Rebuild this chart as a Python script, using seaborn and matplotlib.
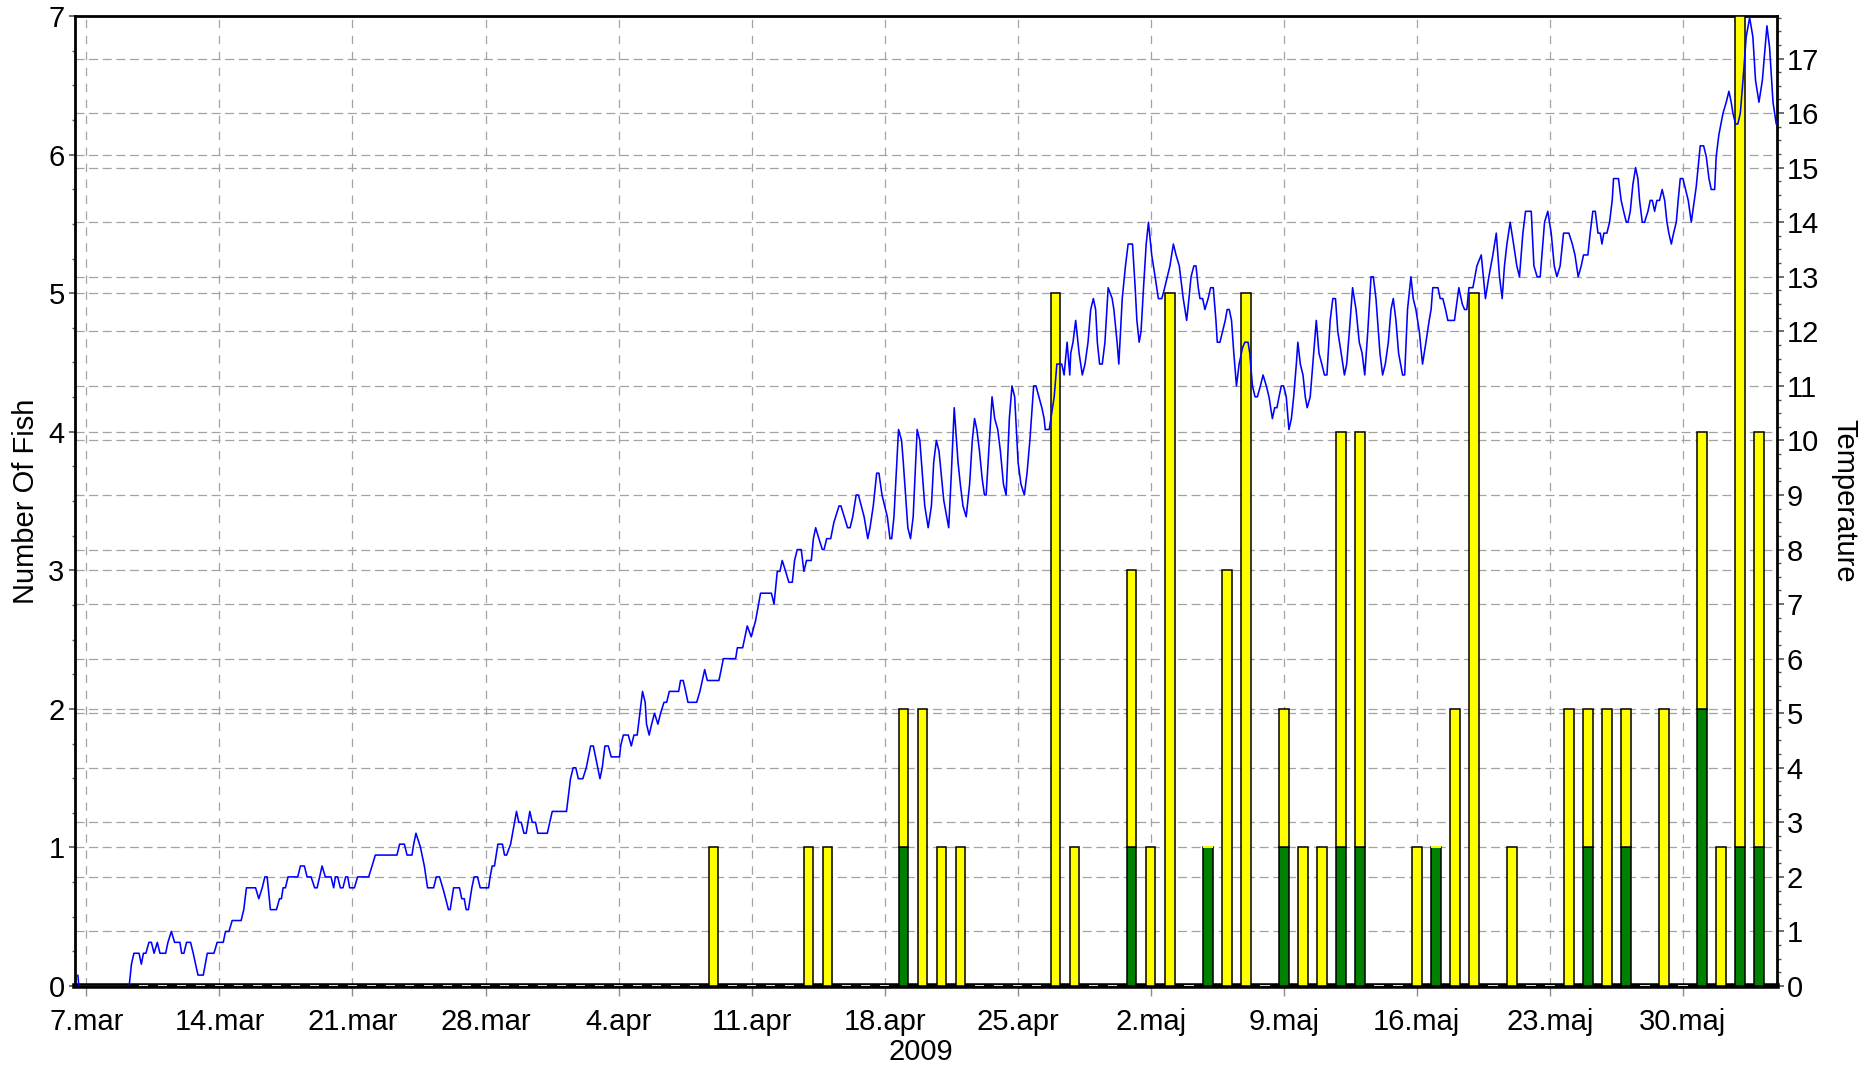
import matplotlib
matplotlib.use("Agg")
import matplotlib.pyplot as plt
import matplotlib.ticker as mticker
import matplotlib.dates as mdates
import numpy as np
import pandas as pd
import seaborn as sns

sns.set_theme(style="white")
plt.rcParams['font.family'] = ['Liberation Sans', 'DejaVu Sans']
plt.rcParams['lines.scale_dashes'] = False

# ---------------- data ----------------
reference_day = "2009-03-07"

# (days after 7 March 2009 00:00, water temperature)
temperature_readings = [
    (-0.45, 0.2), (-0.4, 0.0), (2.25, 0.0), (2.37, 0.4), (2.50, 0.6), (2.77, 0.6), (2.89, 0.4), (3.00, 0.6),
    (3.13, 0.6), (3.29, 0.8), (3.42, 0.8), (3.56, 0.6), (3.73, 0.8), (3.87, 0.6), (4.17, 0.6), (4.29, 0.8),
    (4.47, 1.0), (4.64, 0.8), (4.92, 0.8), (5.01, 0.6), (5.13, 0.6), (5.27, 0.8), (5.48, 0.8), (5.62, 0.6),
    (5.87, 0.2), (6.15, 0.2), (6.36, 0.6), (6.71, 0.6), (6.88, 0.8), (7.20, 0.8), (7.32, 1.0), (7.50, 1.0),
    (7.67, 1.2), (8.14, 1.2), (8.28, 1.4), (8.42, 1.8), (8.90, 1.8), (9.07, 1.6), (9.25, 1.8), (9.39, 2.0),
    (9.51, 2.0), (9.68, 1.4), (10.00, 1.4), (10.16, 1.6), (10.26, 1.6), (10.35, 1.8), (10.47, 1.8), (10.61, 2.0),
    (11.12, 2.0), (11.26, 2.2), (11.47, 2.2), (11.61, 2.0), (11.82, 2.0), (12.01, 1.8), (12.14, 1.8), (12.40, 2.2),
    (12.57, 2.0), (12.87, 2.0), (13.01, 1.8), (13.10, 2.0), (13.22, 2.0), (13.36, 1.8), (13.50, 1.8), (13.64, 2.0),
    (13.75, 2.0), (13.85, 1.8), (14.10, 1.8), (14.27, 2.0), (14.85, 2.0), (15.03, 2.2), (15.20, 2.4), (16.34, 2.4),
    (16.48, 2.6), (16.73, 2.6), (16.87, 2.4), (17.13, 2.4), (17.22, 2.6), (17.34, 2.8), (17.57, 2.55), (17.78, 2.2),
    (17.95, 1.8), (18.27, 1.8), (18.41, 2.0), (18.58, 2.0), (18.79, 1.75), (19.05, 1.4), (19.14, 1.4), (19.32, 1.8),
    (19.63, 1.8), (19.75, 1.6), (19.88, 1.6), (19.98, 1.4), (20.10, 1.4), (20.28, 1.8), (20.40, 2.0), (20.58, 2.0),
    (20.72, 1.8), (21.16, 1.8), (21.24, 2.0),
    (21.35, 2.2), (21.47, 2.2), (21.65, 2.6), (21.89, 2.6), (22.00, 2.4), (22.11, 2.4), (22.32, 2.6), (22.53, 3.0),
    (22.63, 3.2), (22.75, 3.0), (22.88, 3.0), (23.02, 2.8), (23.14, 2.8), (23.33, 3.2), (23.46, 3.0), (23.63, 3.0),
    (23.75, 2.8), (24.25, 2.8), (24.51, 3.2), (25.26, 3.2), (25.47, 3.8), (25.61, 4.0), (25.75, 4.0), (25.88, 3.8),
    (26.12, 3.8), (26.30, 4.0), (26.53, 4.4), (26.67, 4.4), (26.79, 4.2), (27.02, 3.8), (27.14, 4.0), (27.28, 4.4),
    (27.46, 4.4), (27.61, 4.2), (28.05, 4.2), (28.11, 4.4), (28.25, 4.6), (28.51, 4.6), (28.67, 4.4), (28.81, 4.6),
    (28.98, 4.6), (29.12, 5.0), (29.26, 5.4), (29.40, 5.2), (29.47, 4.8), (29.61, 4.6), (29.74, 4.8), (29.89, 5.0),
    (30.07, 4.8), (30.21, 5.0), (30.39, 5.2), (30.53, 5.2), (30.67, 5.4), (31.16, 5.4), (31.26, 5.6), (31.40, 5.6),
    (31.53, 5.4), (31.65, 5.2), (32.11, 5.2), (32.28, 5.4), (32.53, 5.8), (32.67, 5.6), (33.28, 5.6), (33.40, 5.8),
    (33.51, 6.0), (34.16, 6.0), (34.25, 6.2), (34.53, 6.2), (34.77, 6.6), (34.98, 6.4), (35.21, 6.7), (35.47, 7.2),
    (36.04, 7.2), (36.18, 7.0), (36.35, 7.6), (36.49, 7.6), (36.61, 7.8), (36.79, 7.6), (36.96, 7.4), (37.14, 7.4),
    (37.26, 7.8), (37.40, 8.0), (37.61, 8.0), (37.75, 7.6), (37.89, 7.8), (38.14, 7.8), (38.25, 8.2), (38.37, 8.4),
    (38.54, 8.2), (38.72, 8.0), (38.81, 8.0), (38.95, 8.2), (39.16, 8.2), (39.33, 8.5), (39.60, 8.8), (39.70, 8.8),
    (40.05, 8.4), (40.18, 8.4), (40.32, 8.6), (40.50, 9.0), (40.62, 9.0), (40.92, 8.6), (41.11, 8.2), (41.23, 8.4),
    (41.40, 8.8), (41.58, 9.4), (41.70, 9.4), (41.86, 9.0), (42.14, 8.6), (42.28, 8.2), (42.37, 8.2), (42.49, 8.6),
    (42.73, 10.2), (42.89, 10.0), (42.98, 9.6), (43.22, 8.4), (43.36, 8.2), (43.50, 8.6), (43.71, 10.2), (43.85, 10.0),
    (44.11, 8.8), (44.29, 8.4), (44.46, 8.8), (44.58, 9.6), (44.72, 10.0), (44.86, 9.8), (45.11, 8.9), (45.37, 8.4),
    (45.51, 9.4), (45.66, 10.6), (45.86, 9.6), (45.98, 9.2), (46.12, 8.8), (46.29, 8.6), (46.47, 9.2), (46.61, 10.0),
    (46.73, 10.4), (46.85, 10.2), (46.99, 9.8), (47.13, 9.3), (47.25, 9.0), (47.34, 9.0), (47.48, 9.8), (47.65, 10.8),
    (47.79, 10.4), (47.95, 10.2), (48.09, 9.8), (48.25, 9.2), (48.39, 9.0), (48.56, 10.4), (48.70, 11.0), (48.84, 10.8),
    (49.02, 9.6), (49.17, 9.2), (49.35, 9.0), (49.49, 9.4), (49.64, 10.0), (49.84, 11.0), (49.96, 11.0), (50.27, 10.6),
    (50.39, 10.4), (50.45, 10.2), (50.66, 10.2), (50.92, 10.8), (51.06, 11.4), (51.32, 11.4), (51.44, 11.2), (51.60, 11.8),
    (51.74, 11.2), (51.79, 11.6), (51.91, 11.8), (52.05, 12.2), (52.23, 11.6), (52.40, 11.2), (52.54, 11.4), (52.70, 11.8),
    (52.84, 12.4), (52.98, 12.6), (53.10, 12.4), (53.19, 11.8), (53.31, 11.4), (53.45, 11.4), (53.59, 11.8), (53.76, 12.8),
    (53.97, 12.6), (54.06, 12.4), (54.23, 11.8), (54.32, 11.4), (54.50, 12.6), (54.67, 13.2), (54.81, 13.6),
    (54.92, 13.6), (55.04, 13.6), (55.18, 12.8), (55.27, 12.2), (55.39, 11.8), (55.49, 12.0), (55.62, 12.8), (55.76, 13.6),
    (55.88, 14.0), (56.05, 13.4), (56.23, 13.0), (56.40, 12.6), (56.58, 12.6), (56.70, 12.75), (56.87, 13.0), (57.01, 13.2),
    (57.19, 13.6), (57.33, 13.4), (57.50, 13.2), (57.71, 12.6), (57.89, 12.2), (58.01, 12.6), (58.12, 13.0), (58.27, 13.2),
    (58.38, 13.2), (58.50, 12.8), (58.59, 12.6), (58.73, 12.6), (58.85, 12.4), (59.02, 12.6), (59.15, 12.8), (59.29, 12.8),
    (59.43, 12.2), (59.50, 11.8), (59.64, 11.8), (59.78, 12.0), (59.92, 12.2), (60.02, 12.4), (60.13, 12.4), (60.25, 12.2),
    (60.37, 11.6), (60.51, 11.0), (60.65, 11.4), (60.83, 11.7), (60.95, 11.8), (61.12, 11.8), (61.21, 11.6), (61.35, 11.0),
    (61.49, 10.8), (61.61, 10.8), (61.77, 11.0), (61.91, 11.2), (62.08, 11.0), (62.22, 10.8), (62.40, 10.4), (62.52, 10.6),
    (62.64, 10.6), (62.75, 10.8), (62.87, 11.0), (62.99, 11.0), (63.13, 10.8), (63.27, 10.2), (63.40, 10.4), (63.52, 10.8),
    (63.66, 11.4), (63.74, 11.8), (63.87, 11.4), (64.01, 11.2), (64.13, 10.8), (64.23, 10.6), (64.39, 10.8), (64.57, 11.6),
    (64.71, 12.2), (64.85, 11.6), (65.00, 11.4), (65.14, 11.2), (65.27, 11.2), (65.44, 12.2), (65.58, 12.6), (65.72, 12.6),
    (65.84, 12.0), (66.02, 11.6), (66.19, 11.2), (66.31, 11.4), (66.45, 12.0), (66.62, 12.8), (66.80, 12.4), (66.97, 11.8),
    (67.12, 11.6), (67.26, 11.2), (67.42, 12.0), (67.59, 13.0), (67.71, 13.0), (67.85, 12.6), (68.06, 11.6), (68.20, 11.2),
    (68.34, 11.4), (68.50, 11.8), (68.64, 12.4), (68.76, 12.6), (68.90, 12.2), (69.04, 11.6), (69.25, 11.2), (69.36, 11.2),
    (69.51, 12.4), (69.69, 13.0), (69.81, 12.6), (69.95, 12.4), (70.13, 12.0), (70.30, 11.4), (70.48, 11.8), (70.65, 12.2),
    (70.75, 12.4), (70.84, 12.8), (71.11, 12.8), (71.23, 12.6), (71.37, 12.6), (71.51, 12.4), (71.63, 12.2), (71.98, 12.2),
    (72.21, 12.8), (72.39, 12.5), (72.51, 12.4), (72.63, 12.4), (72.74, 12.8), (72.95, 12.8), (73.16, 13.2), (73.39, 13.4),
    (73.61, 12.6), (73.79, 13.0), (74.00, 13.4), (74.18, 13.8), (74.35, 13.0), (74.49, 12.6), (74.61, 13.2), (74.74, 13.6),
    (74.91, 14.0), (75.09, 13.6), (75.26, 13.2), (75.40, 13.0), (75.58, 13.8), (75.72, 14.2), (76.02, 14.2), (76.16, 13.2),
    (76.33, 13.0), (76.49, 13.0), (76.72, 14.0), (76.89, 14.2), (77.07, 13.8), (77.23, 13.2), (77.37, 13.0), (77.54, 13.2),
    (77.72, 13.8), (78.00, 13.8), (78.18, 13.6), (78.32, 13.4), (78.49, 13.0), (78.65, 13.2), (78.77, 13.4), (79.00, 13.4),
    (79.12, 13.8), (79.26, 14.2), (79.39, 14.2), (79.53, 13.8), (79.65, 13.8), (79.74, 13.6), (79.84, 13.8), (80.00, 13.8),
    (80.14, 14.0), (80.28, 14.4), (80.35, 14.8), (80.61, 14.8), (80.75, 14.4), (80.88, 14.2), (81.02, 14.0), (81.11, 14.0),
    (81.23, 14.2), (81.37, 14.7), (81.51, 15.0), (81.63, 14.8), (81.72, 14.4), (81.86, 14.0), (81.98, 14.0), (82.16, 14.2),
    (82.28, 14.4), (82.39, 14.4), (82.51, 14.2), (82.63, 14.4), (82.77, 14.4), (82.91, 14.6), (83.04, 14.4), (83.16, 14.0),
    (83.26, 13.8), (83.39, 13.6), (83.51, 13.8), (83.65, 14.0), (83.75, 14.4), (83.86, 14.8), (84.00, 14.8), (84.14, 14.6),
    (84.28, 14.4), (84.44, 14.0), (84.56, 14.3), (84.70, 14.65), (84.91, 15.4), (85.09, 15.4), (85.23, 15.2), (85.37, 14.8),
    (85.49, 14.6), (85.67, 14.6), (85.75, 15.2), (85.89, 15.6), (86.11, 16.0), (86.28, 16.2), (86.42, 16.4), (86.54, 16.2),
    (86.63, 16.0), (86.77, 15.8), (86.89, 15.8), (87.02, 16.0), (87.16, 16.6), (87.33, 17.4), (87.51, 17.75), (87.68, 17.4),
    (87.82, 16.6), (88.00, 16.2), (88.18, 16.6), (88.42, 17.6), (88.56, 17.2), (88.74, 16.2), (88.91, 15.8),
]

# daily fish counts (days not listed have zero fish)
count_first_day = "2009-03-10"
count_last_day = "2009-06-03"
fish_days = [
    "2009-04-09", "2009-04-14", "2009-04-15", "2009-04-19", "2009-04-20", "2009-04-21", "2009-04-22",
    "2009-04-27", "2009-04-28", "2009-05-01", "2009-05-02", "2009-05-03", "2009-05-05", "2009-05-06",
    "2009-05-07", "2009-05-09", "2009-05-10", "2009-05-11", "2009-05-12", "2009-05-13", "2009-05-16",
    "2009-05-17", "2009-05-18", "2009-05-19", "2009-05-21", "2009-05-24", "2009-05-25", "2009-05-26",
    "2009-05-27", "2009-05-29", "2009-05-31", "2009-06-01", "2009-06-02", "2009-06-03",
]
green_counts = [0, 0, 0, 1, 0, 0, 0, 0, 0, 1, 0, 0, 1, 0, 0, 1, 0, 0, 1, 1, 0, 1, 0, 0, 0, 0, 1, 0, 1, 0, 2, 0, 1, 1]
yellow_counts = [1, 1, 1, 1, 2, 1, 1, 5, 1, 2, 1, 5, 0, 3, 5, 1, 1, 1, 3, 3, 1, 0, 2, 5, 1, 2, 1, 2, 1, 2, 2, 1, 6, 3]

x_tick_dates = ["2009-03-07", "2009-03-14", "2009-03-21", "2009-03-28", "2009-04-04", "2009-04-11",
                "2009-04-18", "2009-04-25", "2009-05-02", "2009-05-09", "2009-05-16", "2009-05-23",
                "2009-05-30"]
x_tick_labels = ["7.mar", "14.mar", "21.mar", "28.mar", "4.apr", "11.apr", "18.apr", "25.apr",
                 "2.maj", "9.maj", "16.maj", "23.maj", "30.maj"]
x_axis_title = "2009"
left_title = "Number Of Fish"
right_title = "Temperature"
view_days = (-0.6, 88.95)

# ---------------- tables ----------------
base = pd.Timestamp(reference_day)
temp_df = pd.DataFrame(temperature_readings, columns=["day", "temp"])
temp_df["time"] = base + pd.to_timedelta(temp_df["day"], unit="D")

days = pd.date_range(count_first_day, count_last_day, freq="D")
counts = pd.DataFrame({"green": green_counts, "yellow": yellow_counts},
                      index=pd.to_datetime(fish_days)).reindex(days, fill_value=0)
g = counts["green"].to_numpy()
yv = counts["yellow"].to_numpy()

# ---------------- figure ----------------
W, H = 1874, 1068
fig = plt.figure(figsize=(W / 100, H / 100), dpi=100)
x0, x1, y_top, y_bot = 75, 1777, 16, 986
rect = [x0 / W, 1 - y_bot / H, (x1 - x0) / W, (y_bot - y_top) / H]

ax_back = fig.add_axes(rect)
ax = fig.add_axes(rect, sharex=ax_back)
ax_line = fig.add_axes(rect, sharex=ax_back, sharey=ax_back)
ax_back.set_zorder(0)
ax.set_zorder(1)
ax_line.set_zorder(2)
ax.patch.set_visible(False)
ax_line.patch.set_visible(False)
ax_back.set_facecolor("white")

grid_col = "#a3a3a3"
hdash = (0, (6.5, 3.3))
vdash = (0, (6.0, 5.5))

# temperature (back) axis: right ticks & horizontal grid
ax_back.set_ylim(0, 17.78)
ax_back.yaxis.tick_right()
ax_back.yaxis.set_label_position("right")
ax_back.yaxis.set_major_locator(mticker.MultipleLocator(1))
ax_back.yaxis.set_minor_locator(mticker.MultipleLocator(0.25))
ax_back.grid(axis="y", which="major", color=grid_col, linestyle=hdash, linewidth=0.9)
ax_back.grid(axis="x", visible=False)
for s in ax_back.spines.values():
    s.set_visible(False)
ax_back.tick_params(axis="x", which="both", bottom=False, top=False, labelbottom=False)
ax_back.tick_params(axis="y", which="major", right=True, left=False, length=5, width=1.2,
                    color="#555555", labelsize=21, pad=2, labelcolor="black")
ax_back.tick_params(axis="y", which="minor", right=True, left=False, length=3, width=1.0, color="#555555")
ax_back.set_ylabel(right_title, fontsize=21, rotation=270, color="black")
ax_back.yaxis.set_label_coords(1.0394, 0.5)
ax_back.yaxis.label.set_verticalalignment("center")
ax_back.yaxis.label.set_horizontalalignment("center")

# fish axis: bars, left ticks, grid
ax.set_ylim(0, 7)
ax.yaxis.tick_left()
ax.yaxis.set_major_locator(mticker.MultipleLocator(1))
ax.yaxis.set_minor_locator(mticker.MultipleLocator(0.25))
ax.set_axisbelow(True)
ax.grid(axis="y", which="major", color=grid_col, linestyle=hdash, linewidth=0.9)
ax.grid(axis="x", which="major", color=grid_col, linestyle=vdash, linewidth=0.9)

mask_g = g > 0
ax.bar(days[mask_g], g[mask_g], width=0.5, color="#008000", edgecolor="black", linewidth=1.1, zorder=3)
mask_y = yv > 0
ax.bar(days[mask_y], yv[mask_y], bottom=g[mask_y], width=0.5, color="#ffff00",
       edgecolor="black", linewidth=1.1, zorder=3)
ax.bar(days[~mask_y], yv[~mask_y], bottom=g[~mask_y], width=0.5, color="#ffff00",
       edgecolor="#ffff00", linewidth=1.4, zorder=3.2)

ax.set_xlim(base + pd.Timedelta(days=view_days[0]), base + pd.Timedelta(days=view_days[1]))
ax.xaxis.set_major_locator(mticker.FixedLocator(mdates.date2num(pd.to_datetime(x_tick_dates))))
ax.xaxis.set_major_formatter(mticker.FixedFormatter(x_tick_labels))
ax.xaxis.set_minor_locator(mticker.NullLocator())
ax.tick_params(axis="x", which="major", bottom=True, length=7, width=1.0, color="#8c8c8c",
               labelsize=21, pad=9, labelcolor="black")
ax.tick_params(axis="y", which="major", left=True, right=False, length=4.5, width=1.2,
               color="#555555", labelsize=21, pad=3, labelcolor="black")
ax.tick_params(axis="y", which="minor", left=True, right=False, length=2.5, width=1.0, color="#555555")

for name, s in ax.spines.items():
    s.set_visible(True)
    s.set_color("black")
    s.set_linewidth(2.0)
ax.spines["bottom"].set_linewidth(4.0)

ax.set_ylabel(left_title, fontsize=21, color="black")
ax.yaxis.set_label_coords(-0.0288, 0.5)
ax.yaxis.label.set_verticalalignment("center")
ax.yaxis.label.set_horizontalalignment("center")
ax.set_xlabel(x_axis_title, fontsize=21, color="black")
ax.xaxis.set_label_coords(0.497, -0.068)
ax.xaxis.label.set_verticalalignment("center")

# temperature line on top
sns.lineplot(data=temp_df, x="time", y="temp", ax=ax_line, color="#0000ff", linewidth=1.15,
             sort=False, estimator=None)
ax_line.set_ylim(0, 17.78)
ax_line.axis("off")

fig.savefig("out.png", dpi=100)
